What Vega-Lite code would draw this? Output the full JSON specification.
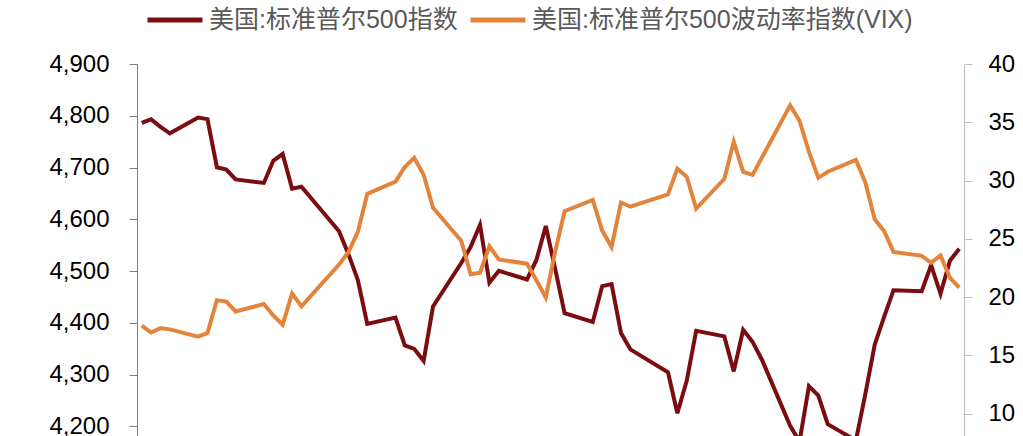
{
  "$schema": "https://vega.github.io/schema/vega-lite/v6.json",
  "autosize": "none",
  "padding": {"left": 137, "top": 64, "right": 59, "bottom": 5},
  "width": 827,
  "height": 466,
  "background": "white",
  "config": {"view": {"stroke": null}},
  "data": {"values": [
    {"date": "2021-12-28T00:00", "spx": 4786.35, "vix": 17.54},
    {"date": "2021-12-29T00:00", "spx": 4793.06, "vix": 16.95},
    {"date": "2021-12-30T00:00", "spx": 4778.73, "vix": 17.33},
    {"date": "2021-12-31T00:00", "spx": 4766.18, "vix": 17.22},
    {"date": "2022-01-03T00:00", "spx": 4796.56, "vix": 16.60},
    {"date": "2022-01-04T00:00", "spx": 4793.54, "vix": 16.91},
    {"date": "2022-01-05T00:00", "spx": 4700.58, "vix": 19.73},
    {"date": "2022-01-06T00:00", "spx": 4696.05, "vix": 19.61},
    {"date": "2022-01-07T00:00", "spx": 4677.03, "vix": 18.76},
    {"date": "2022-01-10T00:00", "spx": 4670.29, "vix": 19.40},
    {"date": "2022-01-11T00:00", "spx": 4713.07, "vix": 18.41},
    {"date": "2022-01-12T00:00", "spx": 4726.35, "vix": 17.62},
    {"date": "2022-01-13T00:00", "spx": 4659.03, "vix": 20.31},
    {"date": "2022-01-14T00:00", "spx": 4662.85, "vix": 19.19},
    {"date": "2022-01-18T00:00", "spx": 4577.11, "vix": 22.79},
    {"date": "2022-01-19T00:00", "spx": 4532.76, "vix": 23.85},
    {"date": "2022-01-20T00:00", "spx": 4482.73, "vix": 25.59},
    {"date": "2022-01-21T00:00", "spx": 4397.94, "vix": 28.85},
    {"date": "2022-01-24T00:00", "spx": 4410.13, "vix": 29.90},
    {"date": "2022-01-25T00:00", "spx": 4356.45, "vix": 31.16},
    {"date": "2022-01-26T00:00", "spx": 4349.93, "vix": 31.96},
    {"date": "2022-01-27T00:00", "spx": 4326.51, "vix": 30.49},
    {"date": "2022-01-28T00:00", "spx": 4431.85, "vix": 27.66},
    {"date": "2022-01-31T00:00", "spx": 4515.55, "vix": 24.83},
    {"date": "2022-02-01T00:00", "spx": 4546.54, "vix": 21.96},
    {"date": "2022-02-02T00:00", "spx": 4589.38, "vix": 22.09},
    {"date": "2022-02-03T00:00", "spx": 4477.44, "vix": 24.35},
    {"date": "2022-02-04T00:00", "spx": 4500.53, "vix": 23.22},
    {"date": "2022-02-07T00:00", "spx": 4483.87, "vix": 22.86},
    {"date": "2022-02-08T00:00", "spx": 4521.54, "vix": 21.44},
    {"date": "2022-02-09T00:00", "spx": 4587.18, "vix": 19.96},
    {"date": "2022-02-10T00:00", "spx": 4504.08, "vix": 23.91},
    {"date": "2022-02-11T00:00", "spx": 4418.64, "vix": 27.36},
    {"date": "2022-02-14T00:00", "spx": 4401.67, "vix": 28.33},
    {"date": "2022-02-15T00:00", "spx": 4471.07, "vix": 25.70},
    {"date": "2022-02-16T00:00", "spx": 4475.01, "vix": 24.29},
    {"date": "2022-02-17T00:00", "spx": 4380.26, "vix": 28.11},
    {"date": "2022-02-18T00:00", "spx": 4348.87, "vix": 27.75},
    {"date": "2022-02-22T00:00", "spx": 4304.76, "vix": 28.81},
    {"date": "2022-02-23T00:00", "spx": 4225.50, "vix": 31.02},
    {"date": "2022-02-24T00:00", "spx": 4288.70, "vix": 30.32},
    {"date": "2022-02-25T00:00", "spx": 4384.65, "vix": 27.59},
    {"date": "2022-02-28T00:00", "spx": 4373.94, "vix": 30.15},
    {"date": "2022-03-01T00:00", "spx": 4306.26, "vix": 33.32},
    {"date": "2022-03-02T00:00", "spx": 4386.54, "vix": 30.74},
    {"date": "2022-03-03T00:00", "spx": 4363.49, "vix": 30.48},
    {"date": "2022-03-04T00:00", "spx": 4328.87, "vix": 31.98},
    {"date": "2022-03-07T00:00", "spx": 4201.09, "vix": 36.45},
    {"date": "2022-03-08T00:00", "spx": 4170.70, "vix": 35.13},
    {"date": "2022-03-09T00:00", "spx": 4277.88, "vix": 32.45},
    {"date": "2022-03-10T00:00", "spx": 4259.52, "vix": 30.23},
    {"date": "2022-03-11T00:00", "spx": 4204.31, "vix": 30.75},
    {"date": "2022-03-14T00:00", "spx": 4173.11, "vix": 31.77},
    {"date": "2022-03-15T00:00", "spx": 4262.45, "vix": 29.83},
    {"date": "2022-03-16T00:00", "spx": 4357.86, "vix": 26.67},
    {"date": "2022-03-17T00:00", "spx": 4411.67, "vix": 25.67},
    {"date": "2022-03-18T00:00", "spx": 4463.12, "vix": 23.87},
    {"date": "2022-03-21T00:00", "spx": 4461.18, "vix": 23.53},
    {"date": "2022-03-22T00:00", "spx": 4511.61, "vix": 22.94},
    {"date": "2022-03-23T00:00", "spx": 4456.24, "vix": 23.57},
    {"date": "2022-03-24T00:00", "spx": 4520.16, "vix": 21.67},
    {"date": "2022-03-25T00:00", "spx": 4543.06, "vix": 20.81}
  ]},
  "encoding": {
    "x": {
      "field": "date",
      "type": "temporal",
      "axis": null,
      "scale": {"domain": [
        {"year": 2021, "month": 12, "date": 27, "hours": 12},
        {"year": 2022, "month": 3, "date": 25, "hours": 12}
      ]}
    },
    "color": {
      "scale": {
        "domain": ["美国:标准普尔500指数", "美国:标准普尔500波动率指数(VIX)"],
        "range": ["#7B0C10", "#E3843C"]
      },
      "legend": {
        "orient": "none",
        "direction": "horizontal",
        "legendX": 8,
        "legendY": -74,
        "title": null,
        "symbolType": "stroke",
        "symbolSize": 3025,
        "symbolStrokeWidth": 5,
        "labelFont": "Liberation Sans, Noto Sans CJK SC",
        "labelFontSize": 25,
        "labelColor": "#595959",
        "labelOffset": 4,
        "columnPadding": 2,
        "labelLimit": 600
      }
    }
  },
  "layer": [
    {
      "mark": {"type": "line", "strokeWidth": 4, "clip": true},
      "encoding": {
        "y": {
          "field": "spx",
          "type": "quantitative",
          "scale": {"domain": [4000, 4900], "nice": false, "zero": false},
          "axis": {
            "orient": "left",
            "title": null,
            "values": [4200, 4300, 4400, 4500, 4600, 4700, 4800, 4900],
            "format": ",d",
            "grid": false,
            "domainColor": "#7F7F7F",
            "tickColor": "#7F7F7F",
            "tickSize": 8,
            "labelPadding": 20,
            "labelFont": "Liberation Sans",
            "labelFontSize": 24,
            "labelColor": "#000000"
          }
        },
        "color": {"datum": "美国:标准普尔500指数"}
      }
    },
    {
      "mark": {"type": "line", "strokeWidth": 4, "clip": true},
      "encoding": {
        "y": {
          "field": "vix",
          "type": "quantitative",
          "scale": {"domain": [0, 40], "nice": false},
          "axis": {
            "orient": "right",
            "title": null,
            "values": [10, 15, 20, 25, 30, 35, 40],
            "format": "d",
            "grid": false,
            "domainColor": "#BFBFBF",
            "tickColor": "#BFBFBF",
            "tickSize": 8,
            "labelPadding": 16,
            "labelFont": "Liberation Sans",
            "labelFontSize": 24,
            "labelColor": "#000000"
          }
        },
        "color": {"datum": "美国:标准普尔500波动率指数(VIX)"}
      }
    }
  ],
  "resolve": {"scale": {"y": "independent"}}
}
